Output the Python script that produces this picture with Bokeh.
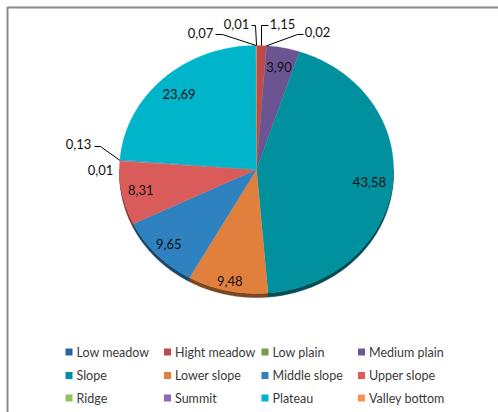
import numpy as np
from bokeh.plotting import figure
from bokeh.models import Range1d
from bokeh.core.properties import value
from bokeh.embed import file_html
from bokeh.resources import INLINE

# ---- data ----
categories = ["Low meadow", "Hight meadow", "Low plain", "Medium plain",
              "Slope", "Lower slope", "Middle slope", "Upper slope",
              "Ridge", "Summit", "Plateau", "Valley bottom"]
shares = [0.01, 1.15, 0.02, 3.90, 43.58, 9.48, 9.65, 8.31, 0.01, 0.13, 23.69, 0.07]
label_texts = ["0,01", "1,15", "0,02", "3,90", "43,58", "9,48", "9,65", "8,31",
               "0,01", "0,13", "23,69", "0,07"]

# ---- styles / layout ----
colors = ["#2166A0", "#BE4B48", "#779E45", "#6C5391", "#00909E", "#E0803C",
          "#2E82BF", "#DA5C5A", "#90C25C", "#8C6AB8", "#00B4C9", "#F79250"]
W, H = 498, 412
cx, cy, rx, ry = 256, 169, 137, 124
depth = 4
font = value("Lato")
fsize = "13px"
legend_fsize = "12.5px"

# inside label radial factors
inside_f = {3: 0.84, 4: 0.83, 5: 0.92, 6: 0.88, 7: 0.86, 10: 0.83}
# outside labels: text centre, leader elbow points (text side -> elbow)
outside = {
    0: ((236, 23), [(251, 25), (255, 25)]),
    1: ((282, 23), [(268, 25), (261, 25)]),
    2: ((317, 31), [(303, 34), (297, 34)]),
    11: ((200, 32), [(215, 34), (222, 34)]),
    9: ((78, 143), [(94, 146), (100, 146)]),
    8: ((100, 169), None),
}

def darker(hexc, f=0.55):
    h = hexc.lstrip("#")
    r, g, b = (int(h[i:i + 2], 16) for i in (0, 2, 4))
    return "#%02x%02x%02x" % (int(r * f), int(g * f), int(b * f))

vals = np.array(shares, dtype=float)
fr = vals / vals.sum()
ends = np.cumsum(fr) * 2 * np.pi
starts = ends - fr * 2 * np.pi
mids = (starts + ends) / 2

def ex(t):
    return cx + rx * np.sin(t)

def ey(t):
    return cy - ry * np.cos(t)

p = figure(width=W, height=H, output_backend="svg", toolbar_location=None,
           x_range=Range1d(0, W), y_range=Range1d(H, 0), min_border=0,
           x_axis_location=None, y_axis_location=None)
p.xgrid.visible = False
p.ygrid.visible = False
p.outline_line_color = None
p.background_fill_color = "white"
p.border_fill_color = "white"

# chart area border
p.line([7, 7, W], [H, 7, 7], line_color="#8a8a8a", line_width=2)

# 3D side band (lower half)
sx, sy, sc = [], [], []
for i in range(len(shares)):
    a0 = max(starts[i], np.pi / 2)
    a1 = min(ends[i], 3 * np.pi / 2)
    if a1 <= a0:
        continue
    t = np.linspace(a0, a1, 60)
    xs = list(ex(t)) + list(ex(t[::-1]))
    ys = list(ey(t) + depth) + list(ey(t[::-1]))
    sx.append(xs); sy.append(ys); sc.append(darker(colors[i]))
p.patches(sx, sy, fill_color=sc, line_color=sc, line_width=0.5)

# pie slices (elliptical)
px, py = [], []
for i in range(len(shares)):
    n = max(4, int(fr[i] * 400))
    t = np.linspace(starts[i], ends[i], n)
    px.append([cx] + list(ex(t)))
    py.append([cy] + list(ey(t)))
p.patches(px, py, fill_color=colors, line_color=colors, line_width=0.3)

# inside labels
ix, iy, it = [], [], []
for i, f in inside_f.items():
    ix.append(cx + f * rx * np.sin(mids[i]))
    iy.append(cy - f * ry * np.cos(mids[i]))
    it.append(label_texts[i])
p.text(ix, iy, text=it, text_align="center", text_baseline="middle",
       text_font=font, text_font_size=fsize, text_color="#111111")

# outside labels and leader lines
ox, oy, ot, lx, ly = [], [], [], [], []
for i, (pos, elbow) in outside.items():
    ox.append(pos[0]); oy.append(pos[1]); ot.append(label_texts[i])
    if elbow:
        lx.append([elbow[0][0], elbow[1][0], float(ex(mids[i]))])
        ly.append([elbow[0][1], elbow[1][1], float(ey(mids[i]))])
p.multi_line(lx, ly, line_color="#000000", line_width=1)
p.text(ox, oy, text=ot, text_align="center", text_baseline="middle",
       text_font=font, text_font_size=fsize, text_color="#111111")

# legend (4 columns x 3 rows)
col_x = [68.5, 167, 264.5, 361]
row_y = [351.5, 375, 397.5]
gx, gy, gt, gc = [], [], [], []
for k, name in enumerate(categories):
    gx.append(col_x[k % 4]); gy.append(row_y[k // 4]); gt.append(name); gc.append(colors[k])
p.rect(gx, gy, width=7, height=7, fill_color=gc, line_color=None)
p.text([x + 7.5 for x in gx], gy, text=gt, text_align="left", text_baseline="middle",
       text_font=font, text_font_size=legend_fsize, text_color="#3a3a3a")

open("out.html", "w").write(file_html(p, INLINE))
